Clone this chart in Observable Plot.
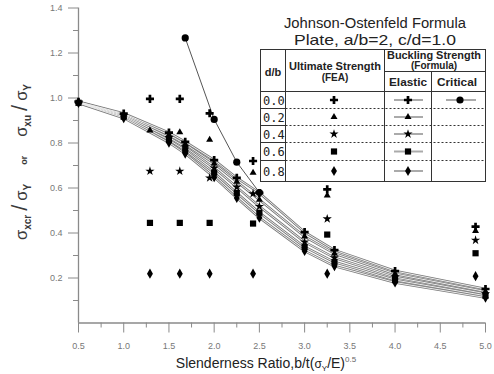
<!DOCTYPE html>
<html><head><meta charset="utf-8">
<script src="https://cdn.jsdelivr.net/npm/d3@7"></script>
<script src="https://cdn.jsdelivr.net/npm/@observablehq/plot@0.6"></script>
<style>body{margin:0;background:#fff}</style>
</head><body><div id="chart"></div>
<script>
// ---- data ----
const xTicks = [0.5, 1.0, 1.5, 2.0, 2.5, 3.0, 3.5, 4.0, 4.5, 5.0];
const xMinor = [0.75, 1.25, 1.75, 2.25, 2.75, 3.25, 3.75, 4.25, 4.75];
const yTicks = [0.2, 0.4, 0.6, 0.8, 1.0, 1.2, 1.4];
const yMinor = [0.1, 0.3, 0.5, 0.7, 0.9, 1.1, 1.3];

const dbLabels = ["0.0", "0.2", "0.4", "0.6", "0.8"];
const symbols = ["cross", "triangle", "star", "square", "diamond"];
const symbolR = [3.4, 2.6, 2.9, 3.5, 3.1];

// elastic buckling strength (formula) curves
const xCurve = [0.5, 1.0, 1.5, 1.68, 2.0, 2.25, 2.5, 3.0, 3.33, 4.0, 5.0];
const elastic00 = [0.983, 0.931, 0.846, 0.805, 0.724, 0.645, 0.578, 0.404, 0.324, 0.231, 0.151];
const elastic02 = [0.982, 0.927, 0.836, 0.795, 0.709, 0.628, 0.548, 0.384, 0.309, 0.218, 0.140];
const elastic04 = [0.981, 0.922, 0.825, 0.782, 0.689, 0.604, 0.518, 0.360, 0.290, 0.204, 0.130];
const elastic06 = [0.979, 0.917, 0.813, 0.768, 0.668, 0.578, 0.490, 0.338, 0.271, 0.191, 0.121];
const elastic08 = [0.978, 0.911, 0.802, 0.753, 0.648, 0.556, 0.468, 0.320, 0.253, 0.180, 0.113];

// critical buckling strength (Johnson-Ostenfeld), d/b = 0.0
const xCrit = [1.68, 2.0, 2.25, 2.5];
const crit = [1.267, 0.905, 0.715, 0.580];

// ultimate strength (FEA)
const xFEA = [1.29, 1.62, 1.95, 2.43, 3.25, 4.89];
const fea00 = [0.996, 0.996, 0.932, 0.720, 0.594, 0.428];
const fea02 = [0.856, 0.848, 0.814, 0.668, 0.567, 0.409];
const fea04 = [0.675, 0.675, 0.645, 0.575, 0.463, 0.368];
const fea06 = [0.445, 0.445, 0.445, 0.442, 0.393, 0.310];
const fea08 = [0.219, 0.219, 0.219, 0.219, 0.219, 0.208];

const elastic = [elastic00, elastic02, elastic04, elastic06, elastic08];
const fea = [fea00, fea02, fea04, fea06, fea08];

const curveData = dbLabels.flatMap((db, k) => xCurve.map((x, i) => ({db, x, y: elastic[k][i]})));
const critData = xCrit.map((x, i) => ({x, y: crit[i]}));
const feaSets = dbLabels.map((db, k) => xFEA.map((x, i) => ({db, x, y: fea[k][i]})));

const axisColor = "#8a8a8a";
const font = "Liberation Sans, Arial, sans-serif";
const marks = [
  Plot.ruleY([0], {stroke: axisColor, strokeWidth: 1.3}),
  Plot.ruleX([0.5], {stroke: axisColor, strokeWidth: 1.3}),
  Plot.axisX({ticks: xTicks, tickSize: 10, tickPadding: 10, tickFormat: d => d.toFixed(1),
    fontSize: 9, fill: "#777", stroke: axisColor, label: null, fontFamily: font}),
  Plot.axisX({ticks: xMinor, tickSize: 5, tickFormat: () => "", stroke: axisColor, label: null}),
  Plot.axisY({ticks: yTicks, tickSize: 10, tickPadding: 6, tickFormat: d => d.toFixed(1),
    fontSize: 9, fill: "#777", stroke: axisColor, label: null, fontFamily: font}),
  Plot.axisY({ticks: yMinor, tickSize: 5, tickFormat: () => "", stroke: axisColor, label: null}),
  Plot.line(curveData, {x: "x", y: "y", z: "db", stroke: "#7a7a7a", strokeWidth: 2.5}),
  Plot.line(curveData, {x: "x", y: "y", z: "db", stroke: "#eeeeee", strokeWidth: 1}),
  Plot.line(critData, {x: "x", y: "y", stroke: "#555", strokeWidth: 1}),
  Plot.dot(critData, {x: "x", y: "y", symbol: "circle", fill: "black", r: 3.6})
];
dbLabels.forEach((db, k) => {
  marks.push(Plot.dot(curveData.filter(d => d.db === db), {x: "x", y: "y", symbol: symbols[k], fill: "black", r: symbolR[k]}));
});
dbLabels.forEach((db, k) => {
  marks.push(Plot.dot(feaSets[k], {x: "x", y: "y", symbol: symbols[k], fill: "black", r: symbolR[k]}));
});

const plot = Plot.plot({
  width: 494, height: 374,
  marginLeft: 78, marginRight: 9, marginTop: 7.5, marginBottom: 51.5,
  x: {domain: [0.5, 5]},
  y: {domain: [0, 1.4]},
  marks
});
document.getElementById("chart").appendChild(plot);

// ---- annotations: axis titles and legend table ----
const svg = d3.select(plot);

// x axis title
const xt = svg.append("text").attr("x", 266).attr("y", 368).attr("text-anchor", "middle")
  .attr("font-family", font).attr("font-size", 14).attr("fill", "#222");
xt.append("tspan").text("Slenderness Ratio,b/t(");
xt.append("tspan").attr("font-size", 12).text("σ");
xt.append("tspan").attr("font-size", 8).attr("dy", 3).text("Y");
xt.append("tspan").attr("dy", -3).text("/E)");
xt.append("tspan").attr("font-size", 8).attr("dy", -6).attr("fill", "#666").text("0.5");

// y axis title
const yt = svg.append("text").attr("transform", "translate(27,162) rotate(-90)")
  .attr("text-anchor", "middle").attr("font-family", font).attr("fill", "#3a3a3a");
const sig = (dx) => yt.append("tspan").attr("font-size", 16.5).attr("dx", dx || 0).text("σ");
const sub = (t) => yt.append("tspan").attr("font-size", 10).attr("font-weight", "bold").attr("dy", 4).text(t);
const sl = () => yt.append("tspan").attr("font-size", 22).attr("font-weight", "100").attr("dy", -4).attr("dx", 4).text("/");
sig(); sub("xcr"); sl(); sig(4); sub("Y");
yt.append("tspan").attr("font-size", 9).attr("font-weight", "bold").attr("dy", -4).attr("dx", 19).text("or");
sig(19); sub("xu"); sl(); sig(4); sub("Y");

// legend table
const g = svg.append("g").attr("font-family", font).attr("fill", "#222");
g.append("text").attr("x", 375).attr("y", 28).attr("text-anchor", "middle").attr("font-size", 14)
  .attr("textLength", 182).attr("lengthAdjust", "spacingAndGlyphs").text("Johnson-Ostenfeld Formula");
g.append("text").attr("x", 375).attr("y", 45).attr("text-anchor", "middle").attr("font-size", 14.5)
  .attr("textLength", 162).attr("lengthAdjust", "spacingAndGlyphs").text("Plate, a/b=2, c/d=1.0");

const L = 260.5, T = 49.5, R = 485.5, B = 181.5;
const c1 = 285.5, c2 = 384.5, c3 = 431.5, hB = 71.5, hH = 91.5;
const rowLines = [108.5, 125.5, 142.5, 160.5];
const rowMid = [100, 117, 134, 151.5, 171];
g.append("rect").attr("x", L).attr("y", T).attr("width", R - L).attr("height", B - T)
  .attr("fill", "white").attr("stroke", "#333").attr("stroke-width", 1);
const line = (x1, y1, x2, y2, dash) => g.append("line").attr("x1", x1).attr("y1", y1).attr("x2", x2).attr("y2", y2)
  .attr("stroke", "#333").attr("stroke-width", 1).attr("stroke-dasharray", dash || null);
line(c1, T, c1, B); line(c2, T, c2, B); line(c3, hB, c3, B);
line(c2, hB, R, hB); line(L, hH, R, hH);
rowLines.forEach(y => { line(L, y, c1, y); line(c1, y, R, y, "2,2"); });

const hdr = (x, y, t, fs, len) => {
  const e = g.append("text").attr("x", x).attr("y", y).attr("text-anchor", "middle")
    .attr("font-size", fs || 9.5).attr("font-weight", "bold").text(t);
  if (len) e.attr("textLength", len).attr("lengthAdjust", "spacingAndGlyphs");
};
hdr(273, 75.5, "d/b", 11);
hdr(335, 70, "Ultimate Strength", 10, 92); hdr(335, 80.5, "(FEA)", 10);
hdr(434, 59, "Buckling Strength", 10, 94); hdr(434, 69, "(Formula)", 10);
hdr(408, 86, "Elastic", 10, 38); hdr(457, 86, "Critical", 10, 40);

dbLabels.forEach((db, k) => {
  const y = rowMid[k];
  g.append("text").attr("x", 263).attr("y", y + 4.5).attr("font-size", 12).attr("text-anchor", "start")
    .attr("font-family", "DejaVu Sans Mono, monospace").text(db);
  const sym = d3.symbol(d3["symbol" + symbols[k][0].toUpperCase() + symbols[k].slice(1)], symbolR[k] * symbolR[k] * Math.PI);
  g.append("path").attr("d", sym()).attr("transform", `translate(334,${y})`).attr("fill", "black");
  g.append("line").attr("x1", 394).attr("x2", 423).attr("y1", y).attr("y2", y).attr("stroke", "#aaa").attr("stroke-width", 2);
  g.append("path").attr("d", sym()).attr("transform", `translate(408,${y})`).attr("fill", "black");
});
g.append("line").attr("x1", 446).attr("x2", 476).attr("y1", rowMid[0]).attr("y2", rowMid[0]).attr("stroke", "#aaa").attr("stroke-width", 2);
g.append("path").attr("d", d3.symbol(d3.symbolCircle, 3.6 * 3.6 * Math.PI)()).attr("transform", `translate(460,${rowMid[0]})`).attr("fill", "black");
</script>
</body></html>
